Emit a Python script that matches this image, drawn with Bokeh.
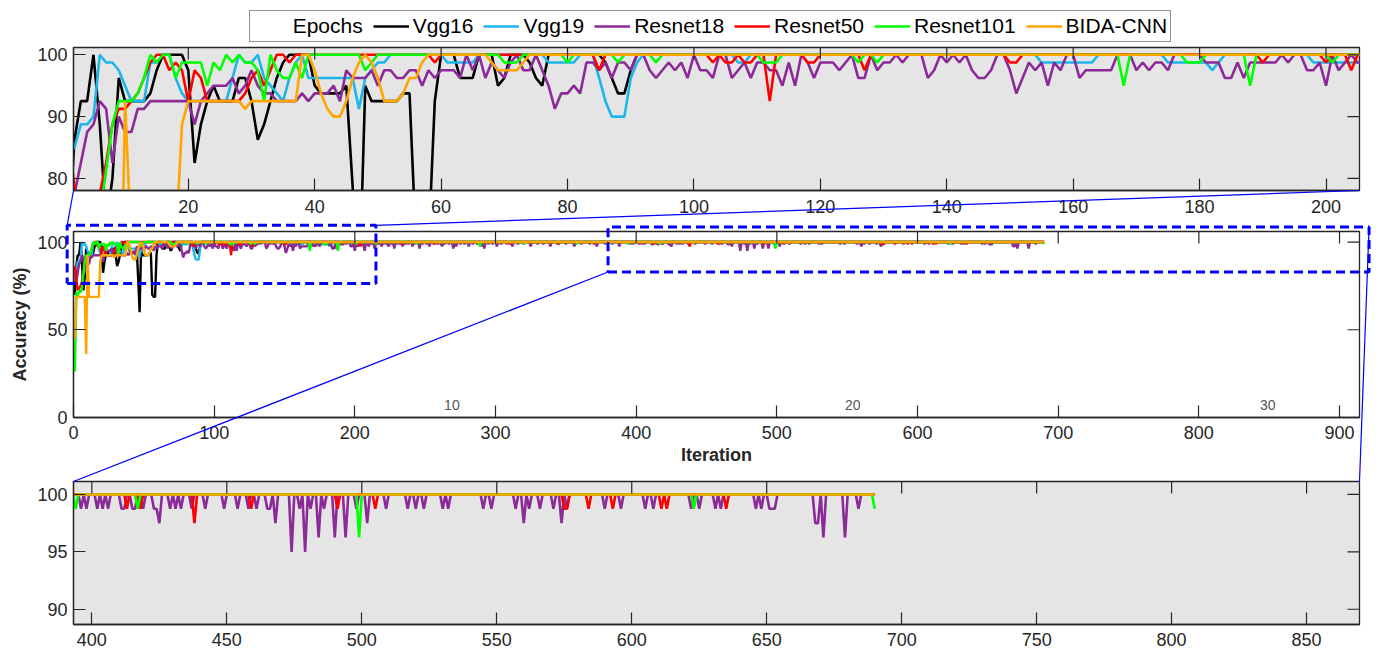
import numpy as np
from bokeh.plotting import figure
from bokeh.models import Range1d, FixedTicker, Legend, LegendItem, Plot
from bokeh.layouts import column
from bokeh.embed import file_html
from bokeh.resources import INLINE
from bokeh.core.properties import value

# ---------------- data ----------------
N_ITER = 690
iterations = np.arange(1, N_ITER + 1)
BASE_ACC = 100.0  # value of every iteration not listed below

series_names = ["Vgg16", "Vgg19", "Resnet18", "Resnet50", "Resnet101", "BIDA-CNN"]
series_colors = ["#000000", "#1DB6EA", "#8B2A98", "#FF0000", "#00FF00", "#FFA500"]

# (iteration, accuracy) for every point below 100 %
vgg16_points = [
    (1, 70), (2, 86.25), (3, 92.5), (4, 92.5), (6, 88.75), (7, 72.5), (8, 80), (9, 96.25),
    (10, 92.5), (11, 92.5), (12, 92.5), (13, 92.5), (14, 93.75), (15, 97.5), (20, 97.5),
    (21, 82.5), (22, 88.75), (23, 92.5), (24, 95), (25, 92.5), (26, 92.5), (27, 92.5),
    (28, 96.25), (29, 96.25), (30, 92.5), (31, 86.25), (32, 88.75), (33, 92.5), (34, 96.25),
    (35, 98.75), (40, 95), (41, 93.75), (42, 93.75), (43, 93.75), (44, 93.75), (45, 95),
    (46, 78.75), (47, 60), (48, 95), (49, 92.5), (50, 92.5), (51, 92.5), (52, 92.5), (53, 92.5),
    (54, 93.75), (55, 93.75), (56, 70), (57, 68.75), (58, 68.75), (59, 92.5), (63, 96.25),
    (64, 96.25), (65, 96.25), (69, 95), (70, 96.25), (74, 98.75), (75, 96.25), (76, 95),
    (86, 98.75), (87, 96.25), (88, 93.75), (89, 93.75), (90, 97.5),
]
vgg19_points = [
    (1, 83.75), (2, 85), (3, 88.75), (4, 88.75), (5, 90), (7, 98.75), (8, 98.75), (9, 97.5),
    (10, 95), (11, 92.5), (12, 92.5), (13, 92.5), (14, 98.75), (15, 98.75), (18, 96.25),
    (19, 93.75), (20, 92.5), (21, 92.5), (22, 92.5), (23, 92.5), (24, 92.5), (25, 92.5),
    (26, 92.5), (27, 96.25), (29, 98.75), (30, 98.75), (32, 96.25), (33, 95), (34, 93.75),
    (35, 92.5), (36, 96.25), (37, 98.75), (39, 96.25), (40, 96.25), (41, 96.25), (42, 96.25),
    (43, 96.25), (44, 96.25), (45, 96.25), (46, 96.25), (47, 91.25), (48, 96.25), (49, 97.5),
    (50, 98.75), (51, 98.75), (61, 98.75), (62, 98.75), (63, 98.75), (64, 98.75), (65, 98.75),
    (77, 98.75), (78, 98.75), (79, 98.75), (80, 98.75), (81, 98.75), (85, 96.25), (86, 92.5),
    (87, 90), (88, 90), (89, 90), (90, 96.25), (91, 98.75), (107, 98.75), (108, 98.75),
    (155, 98.75), (156, 98.75), (157, 98.75), (158, 98.75), (159, 98.75), (160, 98.75),
    (161, 98.75), (162, 98.75), (163, 98.75), (175, 98.75), (176, 98.75), (177, 98.75),
    (178, 98.75), (179, 98.75), (180, 98.75), (181, 98.75), (182, 97.5), (183, 98.75),
    (198, 98.75), (199, 98.75), (200, 98.75), (201, 98.75), (202, 98.75), (203, 98.75),
    (204, 98.75), (205, 98.75), (206, 98.75), (207, 98.75), (261, 98.75), (262, 98.75),
    (263, 98.75),
]
resnet18_points = [
    (1, 83.75), (2, 77.5), (3, 82.5), (4, 87.5), (5, 88.75), (6, 92.5), (7, 91.25), (8, 82.5),
    (9, 90), (10, 87.5), (11, 87.5), (12, 91.25), (13, 91.25), (14, 92.5), (15, 92.5), (16, 92.5),
    (17, 92.5), (18, 92.5), (19, 92.5), (20, 92.5), (21, 88.75), (22, 92.5), (23, 93.75),
    (24, 95), (25, 95), (26, 95), (27, 96.25), (28, 93.75), (29, 95), (30, 97.5), (31, 95),
    (32, 93.75), (33, 93.75), (34, 92.5), (35, 92.5), (36, 92.5), (37, 92.5), (38, 93.75),
    (39, 92.5), (40, 93.75), (41, 93.75), (42, 93.75), (43, 95), (44, 92.5), (45, 97.5),
    (46, 96.25), (47, 96.25), (48, 96.25), (49, 97.5), (50, 95), (51, 97.5), (52, 97.5),
    (53, 96.25), (54, 96.25), (55, 97.5), (56, 97.5), (57, 95), (58, 97.5), (59, 96.25),
    (60, 97.5), (61, 97.5), (62, 97.5), (63, 96.25), (65, 97.5), (67, 96.25), (68, 98.75),
    (69, 97.5), (70, 96.25), (71, 98.75), (73, 97.5), (74, 97.5), (76, 97.5), (77, 95),
    (78, 91.25), (79, 93.75), (80, 93.75), (81, 95), (82, 93.75), (83, 98.75), (84, 98.75),
    (85, 97.5), (86, 98.75), (87, 96.25), (88, 98.75), (89, 98.75), (90, 97.5), (93, 97.5),
    (94, 96.25), (95, 97.5), (96, 98.75), (97, 97.5), (98, 98.75), (99, 96.25), (101, 97.5),
    (102, 97.5), (103, 96.25), (106, 96.25), (107, 97.5), (108, 98.75), (109, 96.25),
    (110, 98.75), (111, 98.75), (112, 97.5), (113, 97.5), (114, 95), (115, 98.75), (116, 95),
    (118, 98.75), (119, 96.25), (120, 98.75), (121, 98.75), (122, 98.75), (123, 97.5),
    (124, 98.75), (126, 96.25), (127, 96.25), (129, 97.5), (130, 98.75), (131, 98.75),
    (133, 98.75), (137, 96.25), (138, 97.5), (140, 98.75), (142, 98.75), (144, 97.5),
    (145, 96.25), (146, 96.25), (147, 97.5), (150, 97.5), (151, 93.75), (152, 96.25),
    (153, 98.75), (154, 97.5), (155, 98.75), (156, 95), (157, 98.75), (158, 97.5), (161, 96.25),
    (162, 97.5), (163, 97.5), (164, 97.5), (165, 97.5), (166, 97.5), (170, 97.5), (171, 98.75),
    (172, 97.5), (173, 98.75), (174, 98.75), (175, 97.5), (181, 98.75), (182, 98.75),
    (183, 98.75), (184, 96.25), (185, 96.25), (186, 98.75), (187, 96.25), (188, 98.75),
    (189, 98.75), (190, 98.75), (191, 98.75), (192, 98.75), (194, 98.75), (197, 97.5),
    (198, 97.5), (199, 98.75), (200, 95), (202, 97.5), (203, 98.75), (205, 98.75),
    (206, 98.75), (207, 95), (209, 98.75), (210, 97.5), (212, 98.75), (214, 96.25),
    (215, 98.75), (217, 98.75), (219, 97.5), (221, 98.75), (223, 98.75), (224, 97.5),
    (226, 98.75), (228, 96.25), (230, 98.75), (232, 98.75), (234, 97.5), (236, 98.75),
    (238, 98.75), (241, 97.5), (243, 98.75), (246, 96.25), (248, 98.75), (251, 98.75),
    (253, 97.5), (256, 98.75), (259, 98.75), (262, 97.5), (264, 98.75), (267, 98.75),
    (270, 96.25), (272, 97.5), (275, 98.75), (278, 98.75), (281, 97.5), (284, 98.75),
    (287, 98.75), (290, 97.5), (292, 96.25), (295, 98.75), (298, 98.75), (301, 97.5),
    (304, 98.75), (308, 98.75), (312, 97.5), (316, 98.75), (320, 98.75), (325, 97.5),
    (330, 98.75), (334, 98.75), (339, 97.5), (344, 98.75), (350, 98.75), (356, 97.5),
    (361, 98.75), (367, 98.75), (372, 97.5), (378, 98.75), (383, 98.75), (388, 97.5),
    (396, 98.75), (398, 98.75), (402, 98.75), (404, 98.75), (406, 98.75), (411, 98.75),
    (412, 98.75), (415, 98.75), (416, 98.75), (419, 98.75), (423, 98.75), (424, 98.75),
    (425, 97.5), (429, 98.75), (431, 98.75), (433, 98.75), (437, 98.75), (442, 98.75),
    (449, 98.75), (454, 98.75), (458, 98.75), (461, 98.75), (465, 98.75), (466, 98.75),
    (468, 97.5), (474, 95), (477, 98.75), (479, 95), (481, 98.75), (484, 96.25), (486, 98.75),
    (490, 96.25), (494, 96.25), (498, 98.75), (502, 97.5), (509, 98.75), (517, 98.75),
    (520, 98.75), (523, 98.75), (530, 98.75), (532, 98.75), (545, 98.75), (548, 98.75),
    (557, 98.75), (560, 97.5), (562, 98.75), (566, 98.75), (571, 98.75), (574, 97.5),
    (576, 98.75), (590, 98.75), (596, 98.75), (605, 98.75), (608, 98.75), (622, 98.75),
    (625, 98.75), (631, 98.75), (633, 98.75), (646, 98.75), (648, 98.75), (651, 98.75),
    (652, 98.75), (653, 98.75), (668, 97.5), (669, 97.5), (671, 96.25), (679, 96.25),
    (684, 98.75),
]
resnet50_points = [
    (1, 86.25), (2, 78.75), (3, 72.5), (4, 73.75), (5, 75), (6, 77.5), (7, 82.5), (8, 88.75),
    (9, 91.25), (10, 91.25), (11, 92.5), (12, 93.75), (13, 96.25), (14, 98.75), (17, 97.5),
    (18, 98.75), (19, 97.5), (20, 92.5), (21, 97.5), (22, 96.25), (23, 92.5), (24, 92.5),
    (25, 92.5), (26, 92.5), (27, 92.5), (28, 92.5), (29, 93.75), (30, 96.25), (31, 97.5),
    (32, 95), (33, 97.5), (36, 98.75), (59, 98.75), (85, 97.5), (103, 98.75), (105, 98.75),
    (106, 98.75), (108, 98.75), (109, 98.75), (112, 92.5), (118, 98.75), (119, 98.75),
    (127, 97.5), (150, 98.75), (151, 98.75), (190, 98.75), (200, 98.75), (204, 97.5),
    (216, 98.75), (233, 98.75), (257, 98.75), (310, 98.75), (345, 98.75), (370, 98.75),
    (413, 98.75), (418, 98.75), (438, 97.5), (459, 98.75), (491, 98.75), (505, 98.75),
    (575, 98.75), (576, 98.75), (584, 98.75), (593, 98.75), (611, 98.75), (613, 98.75),
    (635, 98.75),
]
resnet101_points = [
    (1, 26.25), (2, 71.25), (3, 68.75), (4, 72.5), (5, 71.25), (6, 73.75), (7, 81.25),
    (8, 88.75), (9, 92.5), (10, 92.5), (11, 92.5), (12, 93.75), (13, 96.25), (15, 98.75),
    (18, 96.25), (19, 98.75), (20, 98.75), (21, 98.75), (22, 98.75), (23, 95), (24, 98.75),
    (25, 97.5), (27, 98.75), (29, 98.75), (30, 98.75), (31, 97.5), (32, 92.5), (34, 97.5),
    (35, 96.25), (36, 96.25), (37, 98.75), (38, 96.25), (48, 97.5), (49, 98.75), (70, 98.75),
    (71, 98.75), (72, 98.75), (80, 98.75), (88, 98.75), (94, 98.75), (111, 98.75),
    (112, 98.75), (113, 98.75), (126, 98.75), (129, 98.75), (168, 95), (178, 98.75),
    (179, 98.75), (180, 98.75), (188, 95), (201, 98.75), (215, 98.75), (244, 98.75),
    (289, 97.5), (320, 98.75), (358, 98.75), (394, 98.75), (417, 98.75),
    (499, 96.25), (623, 98.75), (690, 98.75),
]
bida_points = [
    (1, 45), (2, 68.75), (3, 68.75), (4, 68.75), (5, 68.75), (6, 68.75), (7, 68.75), (8, 68.75),
    (9, 36.25), (10, 92.5), (11, 68.75), (12, 68.75), (13, 68.75), (14, 68.75), (15, 68.75),
    (16, 68.75), (17, 68.75), (18, 68.75), (19, 88.75), (20, 92.5), (21, 92.5), (22, 92.5),
    (23, 92.5), (24, 92.5), (25, 92.5), (26, 92.5), (27, 92.5), (28, 92.5), (29, 91.25),
    (30, 92.5), (31, 92.5), (32, 92.5), (33, 92.5), (34, 92.5), (35, 92.5), (36, 92.5),
    (37, 92.5), (40, 97.5), (41, 93.75), (42, 91.25), (43, 90), (44, 90), (45, 92.5),
    (46, 96.25), (47, 98.75), (49, 98.75), (50, 96.25), (51, 92.5), (52, 92.5), (53, 92.5),
    (54, 93.75), (55, 96.25), (56, 96.25), (57, 98.75), (68, 98.75), (69, 97.5), (70, 97.5),
    (71, 97.5), (72, 97.5), (73, 98.75),
]
all_points = [vgg16_points, vgg19_points, resnet18_points, resnet50_points,
              resnet101_points, bida_points]

epoch_labels = ["10", "20", "30"]
epoch_label_iters = [269, 554, 849]

top_xticks = [20, 40, 60, 80, 100, 120, 140, 160, 180, 200]
top_yticks = [80, 90, 100]
mid_xticks = [0, 100, 200, 300, 400, 500, 600, 700, 800, 900]
mid_yticks = [0, 50, 100]
bot_xticks = [400, 450, 500, 550, 600, 650, 700, 750, 800, 850]
bot_yticks = [90, 95, 100]


def build_series(points):
    acc = np.full(N_ITER, BASE_ACC)
    for it, v in points:
        acc[it - 1] = v
    return acc


accuracies = [build_series(p) for p in all_points]

# ---------------- layout / style ----------------
FONT = "Liberation Sans"
TXT = "#262626"
GRAY_BG = "#E5E5E5"
ZCOL = "#0000FF"
PAGE_W = 1374
BL, BR = 73, 15
H_TOP, H_MID, H_BOT = 222, 250, 182
TOTAL_H = H_TOP + H_MID + H_BOT
TOP_BT, TOP_BB = 47, 32
MID_BT, MID_BB = 9, 55
BOT_BT, BOT_BB = 9, 30
TICK_LEN = 12

top_xr, top_yr = (1.84, 205.3), (78.04, 101.18)
mid_xr, mid_yr = (0.0, 914.2), (0.0, 106.0)
bot_xr, bot_yr = (393.2, 869.6), (88.67, 101.13)

# zoom boxes drawn on the main panel (data units of the main panel)
zoom1 = (-4.5, 215.0, 76.3, 109.5)
zoom2 = (380.0, 921.0, 82.9, 108.5)


def style_axis(ax, ticks, standoff):
    ax.ticker = FixedTicker(ticks=ticks)
    ax.major_tick_in = TICK_LEN
    ax.major_tick_out = 0
    ax.minor_tick_in = 0
    ax.minor_tick_out = 0
    ax.major_tick_line_color = TXT
    ax.major_tick_line_width = 1.2
    ax.axis_line_color = TXT
    ax.axis_line_width = 1.3
    ax.major_label_text_font = FONT
    ax.major_label_text_font_size = "18px"
    ax.major_label_text_color = TXT
    ax.major_label_standoff = standoff


def make_fig(h, bt, bb, xr, yr, bg, xticks, yticks, xstand):
    p = figure(width=PAGE_W, height=h, x_range=Range1d(*xr), y_range=Range1d(*yr),
               output_backend="svg", toolbar_location=None,
               min_border_left=BL, min_border_right=BR,
               min_border_top=bt, min_border_bottom=bb)
    p.background_fill_color = bg
    p.border_fill_color = "white"
    p.outline_line_color = TXT
    p.outline_line_width = 1.3
    p.xgrid.visible = False
    p.ygrid.visible = False
    style_axis(p.xaxis[0], xticks, xstand)
    style_axis(p.yaxis[0], yticks, 6)
    return p


def mirror_ticks(p, xr, yr, fh, xticks, yticks):
    # inward ticks on the top and right sides of the box
    fw = PAGE_W - BL - BR
    dy = TICK_LEN * (yr[1] - yr[0]) / fh
    dx = TICK_LEN * (xr[1] - xr[0]) / fw
    xt = [t for t in xticks if xr[0] <= t <= xr[1]]
    yt = [t for t in yticks if yr[0] <= t <= yr[1]]
    p.segment(x0=xt, y0=[yr[1]] * len(xt), x1=xt, y1=[yr[1] - dy] * len(xt),
              line_color=TXT, line_width=1.2)
    p.segment(x0=[xr[1]] * len(yt), y0=yt, x1=[xr[1] - dx] * len(yt), y1=yt,
              line_color=TXT, line_width=1.2)


p_top = make_fig(H_TOP, TOP_BT, TOP_BB, top_xr, top_yr, GRAY_BG, top_xticks, top_yticks, 9)
p_mid = make_fig(H_MID, MID_BT, MID_BB, mid_xr, mid_yr, "white", mid_xticks, mid_yticks, 8)
p_bot = make_fig(H_BOT, BOT_BT, BOT_BB, bot_xr, bot_yr, GRAY_BG, bot_xticks, bot_yticks, 8)

xa, ya = p_mid.xaxis[0], p_mid.yaxis[0]
xa.axis_label = "Iteration"
ya.axis_label = "Accuracy (%)"
for ax in (xa, ya):
    ax.axis_label_text_font = FONT
    ax.axis_label_text_font_size = "18px"
    ax.axis_label_text_font_style = "bold"
    ax.axis_label_text_color = TXT
xa.axis_label_standoff = 3
ya.axis_label_standoff = 4

for acc, col in zip(accuracies, series_colors):
    p_top.line(iterations, acc, line_color=col, line_width=2.6)
    p_mid.line(iterations, acc, line_color=col, line_width=2.4)
    p_bot.line(iterations, acc, line_color=col, line_width=2.6)

p_mid.text(x=epoch_label_iters, y=[7.4] * len(epoch_labels), text=epoch_labels,
           text_font=value(FONT), text_font_size="14px", text_color="#555555",
           text_align="center", text_baseline="middle")

mirror_ticks(p_top, top_xr, top_yr, H_TOP - TOP_BT - TOP_BB, top_xticks, top_yticks)
mirror_ticks(p_mid, mid_xr, mid_yr, H_MID - MID_BT - MID_BB, mid_xticks, mid_yticks)
mirror_ticks(p_bot, bot_xr, bot_yr, H_BOT - BOT_BT - BOT_BB, bot_xticks, bot_yticks)

# ---------------- transparent overlay: legend, zoom boxes, connectors ----------------
frames = {
    "top": (BL, TOP_BT, PAGE_W - BR, H_TOP - TOP_BB, top_xr, top_yr),
    "mid": (BL, H_TOP + MID_BT, PAGE_W - BR, H_TOP + H_MID - MID_BB, mid_xr, mid_yr),
    "bot": (BL, H_TOP + H_MID + BOT_BT, PAGE_W - BR, TOTAL_H - BOT_BB, bot_xr, bot_yr),
}


def to_px(name, x, y):
    fx0, fy0, fx1, fy1, xr, yr = frames[name]
    return (fx0 + (x - xr[0]) / (xr[1] - xr[0]) * (fx1 - fx0),
            fy1 - (y - yr[0]) / (yr[1] - yr[0]) * (fy1 - fy0))


# the overlay's frame should cover the whole canvas; if frame alignment can't be
# switched off, it is aligned with the panels' frames instead
can_unalign = "frame_align" in Plot.properties()
OV_L = 0 if can_unalign else BL
OV_R = 0 if can_unalign else BR
ov = figure(width=PAGE_W, height=TOTAL_H, x_range=Range1d(OV_L, PAGE_W - OV_R),
            y_range=Range1d(TOTAL_H, 0), output_backend="svg", toolbar_location=None,
            min_border_left=OV_L, min_border_right=OV_R, min_border_top=0, min_border_bottom=0,
            x_axis_location=None, y_axis_location=None,
            margin=(-TOTAL_H, 0, 0, 0))
if can_unalign:
    ov.frame_align = False
ov.outline_line_color = None
ov.border_fill_color = None
ov.background_fill_color = None
ov.xgrid.visible = False
ov.ygrid.visible = False

for (x0, x1, y0, y1) in (zoom1, zoom2):
    corners = [to_px("mid", x, y) for x, y in ((x0, y0), (x1, y0), (x1, y1), (x0, y1), (x0, y0))]
    ov.line([c[0] for c in corners], [c[1] for c in corners], line_color=ZCOL,
            line_width=3, line_dash="9 5")

links = [
    (to_px("top", top_xr[0], top_yr[0]), to_px("mid", zoom1[0], zoom1[3])),
    (to_px("top", top_xr[1], top_yr[0]), to_px("mid", zoom1[1], zoom1[3])),
    (to_px("mid", zoom2[0], zoom2[2]), to_px("bot", bot_xr[0], bot_yr[1])),
    (to_px("mid", zoom2[1], zoom2[3]), to_px("bot", bot_xr[1], bot_yr[1])),
]
for a, b in links:
    ov.line([a[0], b[0]], [a[1], b[1]], line_color=ZCOL, line_width=1.2)

# legend proxies (never visible: NaN data)
nan2 = np.array([np.nan, np.nan])
dummy = ov.line(x=nan2, y=nan2, line_alpha=0, line_width=2.6)
items = [LegendItem(label="Epochs", renderers=[dummy])]
for n, c in zip(series_names, series_colors):
    r = ov.line(x=nan2, y=nan2, line_color=c, line_width=2.6)
    items.append(LegendItem(label=n, renderers=[r]))
LEG_LEFT, LEG_BOTTOM = 248.7, 42.3
legend = Legend(items=items, orientation="horizontal",
                location=(LEG_LEFT - OV_L, TOTAL_H - LEG_BOTTOM),
                label_text_font=FONT, label_text_font_size="21px", label_text_color="#000000",
                glyph_width=36, glyph_height=20, label_standoff=4, spacing=10, padding=3,
                margin=0, border_line_color=TXT, border_line_width=1.2,
                background_fill_color="white", background_fill_alpha=1.0)
ov.add_layout(legend)

layout = column(p_top, p_mid, p_bot, ov, spacing=0)
open("out.html", "w").write(file_html(layout, INLINE))
